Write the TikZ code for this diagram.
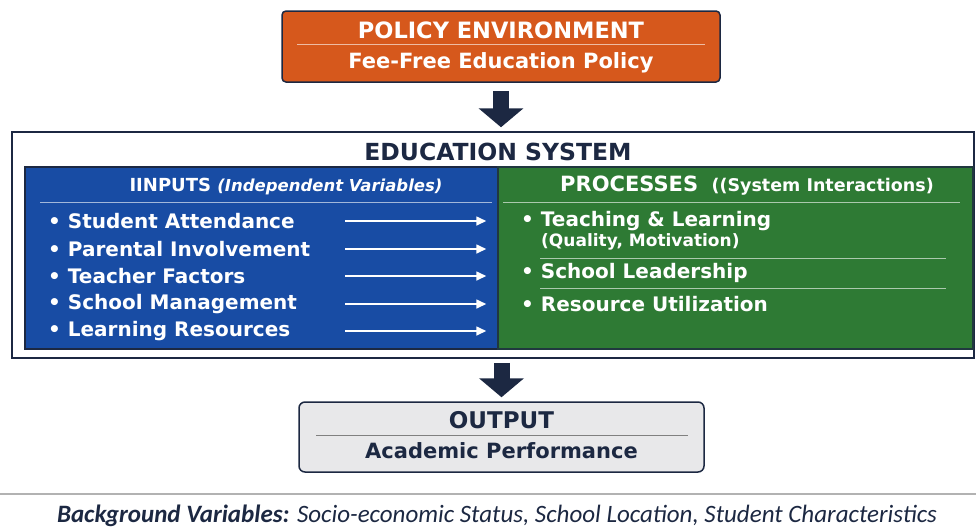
\documentclass[tikz,border=0pt]{standalone}
\usepackage{fontspec}
\setmainfont{DejaVu Sans}
\newfontfamily\notefont{Carlito}
\usetikzlibrary{arrows.meta,positioning}
\definecolor{policyorange}{RGB}{214,88,28}
\definecolor{inputblue}{RGB}{24,76,164}
\definecolor{procgreen}{RGB}{46,122,52}
\definecolor{navy}{RGB}{28,40,66}
\definecolor{outgray}{RGB}{232,232,234}
\tikzset{
  box/.style={draw=navy, line width=1.5pt, inner sep=0pt},
  bigarrow/.style={navy, line width=16pt, -{Triangle[width=44pt,length=19pt]}},
  item/.style={anchor=west, text=white, inner sep=0pt, font=\bfseries\fontsize{20}{22}\selectfont},
  flow/.style={white, line width=1.6pt, -{Triangle[width=9pt,length=10pt]}},
  rule/.style={white, opacity=0.6, line width=0.8pt},
}
\begin{document}
\begin{tikzpicture}[x=1pt,y=-1pt]
\useasboundingbox (0,0) rectangle (976,528);

% policy environment
\node[box, fill=policyorange, rounded corners=4pt, minimum width=438pt, minimum height=71pt] (policy) at (501,46.5) {};
\node[white, font=\bfseries\fontsize{22.5}{24}\selectfont] (policytitle) at (501,30) {POLICY ENVIRONMENT};
\draw[rule] (297,44) -- (705,44);
\node[white, font=\bfseries\fontsize{21}{23}\selectfont] (policyname) at (501,63) {Fee-Free Education Policy};

% education system
\node[box, fill=white, minimum width=962pt, minimum height=226pt] (system) at (493,245) {};
\node[navy, font=\bfseries\fontsize{23.5}{25}\selectfont] (systitle) at (498,152) {EDUCATION SYSTEM};

\node[box, fill=inputblue, minimum width=473pt, minimum height=182pt] (inputs) at (261.5,258) {};
\node[box, draw=navy!80!procgreen, fill=procgreen, minimum width=475pt, minimum height=182pt] (procs) at (735.5,258) {};

\node[white] (inhead) at (286,187) {\bfseries\fontsize{18}{20}\selectfont IINPUTS
  {\itshape\fontsize{16.5}{18}\selectfont (Independent Variables)}};
\draw[rule] (40,202) -- (492,202);

\foreach \name/\txt/\y in {att/Student Attendance/221, par/Parental Involvement/249,
    tea/Teacher Factors/276, man/School Management/304, res/Learning Resources/331}
{
  \node[item] (\name) at (48,\y) {\textbullet\ \txt};
  \coordinate (\name-start) at (345,\y);
  \draw[flow] (\name-start) -- ([xshift=-11pt]procs.west |- \name-start);
}

\node[white] (prochead) at (747,186) {\bfseries\fontsize{21}{23}\selectfont PROCESSES
  {\fontsize{17.5}{19}\selectfont\ ((System Interactions)}};
\draw[rule] (503,202) -- (960,202);

\node[item] (teach) at (521,221) {\textbullet\ Teaching \& Learning};
\node[item, font=\bfseries\fontsize{17}{19}\selectfont] (quality) at (541,242) {(Quality, Motivation)};
\draw[rule] (540,258) -- (946,258);
\node[item] (lead) at (521,273) {\textbullet\ School Leadership};
\draw[rule] (540,288) -- (946,288);
\node[item] (util) at (521,304) {\textbullet\ Resource Utilization};

% output
\node[box, fill=outgray, rounded corners=6pt, minimum width=405pt, minimum height=70pt] (output) at (501.5,437) {};
\node[navy, font=\bfseries\fontsize{23}{25}\selectfont] (outtitle) at (501.5,420) {OUTPUT};
\draw[gray, line width=0.8pt] (316,435) -- (688,435);
\node[navy, font=\bfseries\fontsize{21}{23}\selectfont] (outname) at (501.5,451) {Academic Performance};

% block arrows between the levels
\draw[bigarrow] ([yshift=-8pt]policy.south) -- ([yshift=4pt]policy.south |- system.north);
\draw[bigarrow] ([yshift=-4pt]output.north |- system.south) -- ([yshift=4pt]output.north);

% background variables
\draw[gray!60, line width=1.5pt] (0,494) -- (976,494);
\node[navy, font=\notefont\itshape\fontsize{25}{27}\selectfont] (background) at (497,516)
  {\textbf{Background Variables:} Socio-economic Status, School Location, Student Characteristics};
\end{tikzpicture}
\end{document}
